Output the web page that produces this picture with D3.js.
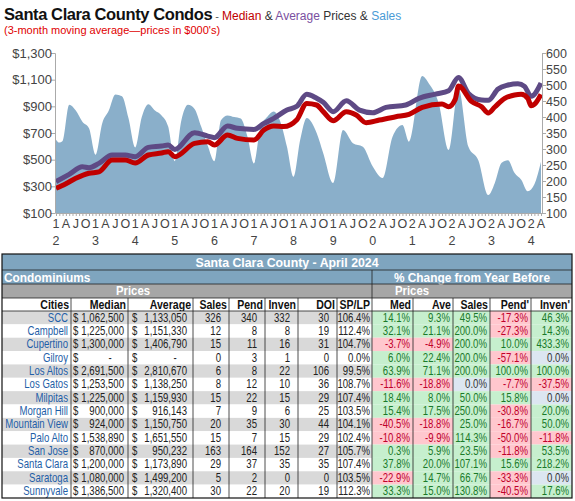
<!DOCTYPE html>
<html><head><meta charset="utf-8">
<script src="https://cdn.jsdelivr.net/npm/d3@7"></script>
<style>body{margin:0;background:#fff}svg{font-family:"Liberation Sans",Arial,sans-serif}</style>
</head><body><svg id="c" width="575" height="501"></svg>
<script>
// ---- chart data (month index from Jan 2012) ----
const medianMonths=[0,3,6,10,13,17,21,24,28,32,34,36,42,46,48,52,55,60,63,66,69,73,76,79,81,84,88,91,94,98,103,107,111,117,119,121,122,126,129,131,133,136,139,141,143,144,145,147];
const medianVals=[285,320,360,398,408,497,497,475,535,550,560,522,622,635,610,685,660,648,722,752,748,800,922,910,860,792,860,835,777,797,822,840,892,917,897,952,1052,935,897,850,895,960,985,990,960,905,915,990];
const averageMonths=[0,4,8,10,13,17,21,24,28,32,34,36,42,46,48,52,55,60,63,66,70,73,76,79,81,84,88,92,96,100,106,110,115,119,122,125,129,131,134,137,140,142,144,147];
const averageVals=[335,390,447,440,472,535,535,522,592,602,610,577,702,677,665,752,735,727,772,810,872,900,990,960,930,860,942,872,852,892,910,960,992,1017,1117,997,947,945,1030,1060,1070,1050,975,1075];
const salesMonths=[0,1,2,4,6,8,10,12,14,16,18,20,22,24,26,28,30,32,34,36,38,40,42,44,46,48,50,52,54,56,58,60,62,64,66,68,70,72,74,76,79,81,84,87,90,93,96,99,102,105,107,111,113,116,119,122,125,128,131,133,135,137,139,141,143,145,147];
const salesVals=[329,320,325,438,420,385,365,282,380,420,470,465,395,305,400,440,420,405,370,262,390,438,425,370,310,262,390,405,400,395,340,255,370,400,417,385,307,213,328,397,350,287,194,359,318,307,245,209,338,375,323,528,505,443,297,490,307,265,156,194,256,265,225,204,168,190,260];
const priceTicks=[100,300,500,700,900,1100,1300];
const salesTicks=[100,150,200,250,300,350,400,450,500,550,600];
// ---- table data ----
const cities=["SCC","Campbell","Cupertino","Gilroy","Los Altos","Los Gatos","Milpitas","Morgan Hill","Mountain View","Palo Alto","San Jose","Santa Clara","Saratoga","Sunnyvale"];
const medians=[1062500,1225000,1300000,null,2691500,1253500,1225000,900000,924000,1538890,870000,1200000,1080000,1386500];
const averages=[1133050,1151330,1406790,null,2810670,1138250,1159930,916143,1150750,1651550,950232,1173890,1499200,1320400];
const salesT=[326,12,15,0,6,8,15,7,20,15,163,29,5,30];
const pend=[340,8,11,3,8,12,22,9,35,7,164,37,2,22];
const inven=[332,8,16,1,22,10,15,6,30,15,152,35,0,20];
const doi=[30,19,31,0,106,36,29,25,44,29,27,35,0,19];
const splp=[106.4,112.4,104.7,0.0,99.5,108.7,107.4,103.5,104.1,102.4,105.7,107.4,103.5,112.3];
const chMed=[14.1,32.1,-3.7,6.0,63.9,-11.6,18.4,15.4,-40.5,-10.8,0.3,37.8,-22.9,33.3];
const chAve=[9.3,21.1,-4.9,22.4,71.1,-18.8,8.0,17.5,-18.8,-9.9,5.9,20.0,14.7,15.0];
const chSales=[49.5,200.0,200.0,200.0,200.0,0.0,50.0,250.0,25.0,114.3,23.5,107.1,66.7,130.8];
const chPend=[-17.3,-27.3,10.0,-57.1,100.0,-7.7,15.8,-30.8,-16.7,-50.0,-11.8,15.6,-33.3,-40.5];
const chInven=[46.3,14.3,433.3,0.0,100.0,-37.5,0.0,20.0,50.0,-11.8,53.5,218.2,0.0,17.6];

const svg=d3.select("#c");
const t=svg.append("text").attr("x",4).attr("y",20);
t.append("tspan").text("Santa Clara County Condos").attr("font-weight","bold").attr("font-size",16.5).attr("fill","#111").attr("letter-spacing",-0.4);
t.append("tspan").text(" - ").attr("font-size",11).attr("fill","#555");
t.append("tspan").text("Median").attr("font-size",12).attr("fill","#c00000");
t.append("tspan").text(" & ").attr("font-size",12).attr("fill","#333");
t.append("tspan").text("Average").attr("font-size",12).attr("fill","#7a4fa0");
t.append("tspan").text(" Prices & ").attr("font-size",12).attr("fill","#333");
t.append("tspan").text("Sales").attr("font-size",12).attr("fill","#4a9bd6");
svg.append("text").attr("x",4).attr("y",34).attr("font-size",11).attr("fill","#e00000").text("(3-month moving average\u2014prices in $000's)");

const X=d3.scaleLinear().domain([0,147]).range([56,541]);
const Y=d3.scaleLinear().domain([100,1300]).range([213,53]);
const YS=d3.scaleLinear().domain([100,600]).range([213,53]);
const sales=salesMonths.map((m,i)=>[m,salesVals[i]]);
svg.append("path").datum(sales).attr("fill","#8aafca")
  .attr("d",d3.area().x(d=>X(d[0])).y0(213).y1(d=>YS(d[1])).curve(d3.curveMonotoneX));
const line=d3.line().x(d=>X(d[0])).y(d=>Y(d[1])).curve(d3.curveMonotoneX);
svg.append("path").datum(averageMonths.map((m,i)=>[m,averageVals[i]])).attr("fill","none").attr("stroke","#5e4a85").attr("stroke-width",5).attr("d",line);
svg.append("path").datum(medianMonths.map((m,i)=>[m,medianVals[i]])).attr("fill","none").attr("stroke","#c00000").attr("stroke-width",5).attr("d",line);

const la=svg.append("g").attr("transform","translate(55,0)").call(d3.axisLeft(Y).tickValues(priceTicks).tickSize(4).tickFormat(d=>"$"+d3.format(",")(d)));
const ra=svg.append("g").attr("transform","translate(542,0)").call(d3.axisRight(YS).tickValues(salesTicks).tickSize(4));
[la,ra].forEach(g=>{g.selectAll("path,line").attr("stroke","#aaa");g.selectAll("text").attr("font-size",13).attr("fill","#444");});
la.selectAll("text").attr("x",-3);ra.selectAll("text").attr("x",4).attr("font-size",12.5);
const months=d3.range(0,148);
const xa=svg.append("g").attr("transform","translate(0,213)").call(d3.axisBottom(X).tickValues(months).tickSize(3).tickFormat(""));
xa.selectAll("path,line").attr("stroke","#aaa");
const qLab={0:"1",3:"A",6:"J",9:"O"};
months.filter(m=>m%3===0).forEach(m=>{
  const yr=2012+Math.floor(m/12), q=m%12;
  let lab=q===0?String(Math.floor((yr%100)/10)):qLab[q];
  svg.append("text").attr("x",X(m)).attr("y",228).attr("text-anchor","middle").attr("font-size",12.5).attr("fill","#444").text(lab);
  if(q===0) svg.append("text").attr("x",X(m)).attr("y",245).attr("text-anchor","middle").attr("font-size",12.5).attr("fill","#444").text(String(yr%10));
});

// ---- table ----
const cols=[2,71,128,193,229,265,298,337,372,413,453,490,531,572];
const T=svg.append("g");
const rowH=(498-311)/14, SX=0.8;
const tt=(x,y,s,anchor,opts)=>{opts=opts||{};
  return T.append("text").attr("transform",`translate(${x},${y}) scale(${opts.sx||SX},1)`).attr("text-anchor",anchor)
   .attr("font-size",opts.fs||12).attr("font-weight",opts.bold?"bold":null).attr("fill",opts.fill||"#222").text(s);};
T.append("rect").attr("x",2).attr("y",254).attr("width",570).attr("height",16).attr("fill","#7fa5bf");
T.append("rect").attr("x",2).attr("y",270).attr("width",570).attr("height",14).attr("fill","#7fa5bf");
T.append("rect").attr("x",2).attr("y",284).attr("width",570).attr("height",14).attr("fill","#a6a6a6");
tt(287,267,"Santa Clara County - April 2024","middle",{fs:13,bold:1,fill:"#fff",sx:0.95});
tt(4,282,"Condominiums","start",{fs:12.5,bold:1,fill:"#fff",sx:0.95});
tt(472,282,"% Change from Year Before","middle",{fs:12.5,bold:1,fill:"#fff",sx:0.95});
tt(133,295,"Prices","middle",{fs:12,bold:1,fill:"#fff",sx:0.95});
tt(412,295,"Prices","middle",{fs:12,bold:1,fill:"#fff",sx:0.95});
const heads=["Cities","Median","Average","Sales","Pend","Inven","DOI","SP/LP","Med","Ave","Sales","Pend'","Inven'"];
heads.forEach((h,i)=>tt(cols[i+1]-2,309,h,"end",{bold:1,fill:"#111",sx:0.88}));
const fmt=d3.format(","), pct=v=>v.toFixed(1)+"%";
cities.forEach((c,r)=>{
  const y0=311+r*rowH, yb=y0+rowH-2.8;
  T.append("rect").attr("x",2).attr("y",y0).attr("width",370).attr("height",rowH).attr("fill",r%2===0?"#d9d9d9":"#fff");
  const txt=(x,s,anchor,fill)=>tt(x,yb,s,anchor,{fill:fill});
  txt(cols[1]-3,c,"end","#1f5fa8");
  txt(cols[1]+2,"$","start");
  txt(cols[2]+4,"$","start");
  if(medians[r]==null){txt(cols[2]-18,"-","middle");txt(cols[3]-18,"-","middle");}
  else{txt(cols[2]-4,fmt(medians[r]),"end");txt(cols[3]-6,fmt(averages[r]),"end");}
  [salesT,pend,inven,doi].forEach((a,k)=>txt(cols[4+k]-8,a[r],"end"));
  txt(cols[8]-2,pct(splp[r]),"end");
  [chMed,chAve,chSales,chPend,chInven].forEach((a,k)=>{
    const v=a[r];
    T.append("rect").attr("x",cols[8+k]).attr("y",y0).attr("width",cols[9+k]-cols[8+k]).attr("height",rowH)
      .attr("fill",v>0?"#c6efce":v<0?"#ffc7ce":"#dce6f1");
  });
  [chMed,chAve,chSales,chPend,chInven].forEach((a,k)=>{
    const v=a[r];
    txt(cols[9+k]-3,pct(v),"end",v>0?"#1a7a2a":v<0?"#c0002a":"#333");
  });
});
const bt=298, bb=498;
cols.forEach((x,i)=>{ if(i>0&&i<cols.length-1) T.append("line").attr("x1",x).attr("x2",x).attr("y1",bt).attr("y2",bb).attr("stroke","#222").attr("stroke-width",0.8);});
T.append("line").attr("x1",372).attr("x2",372).attr("y1",270).attr("y2",298).attr("stroke","#222").attr("stroke-width",0.8);
[270,284,298,311].forEach(y=>T.append("line").attr("x1",2).attr("x2",572).attr("y1",y).attr("y2",y).attr("stroke","#222").attr("stroke-width",0.8));
T.append("rect").attr("x",2).attr("y",254).attr("width",570).attr("height",244).attr("fill","none").attr("stroke","#111").attr("stroke-width",1.2);
</script></body></html>
